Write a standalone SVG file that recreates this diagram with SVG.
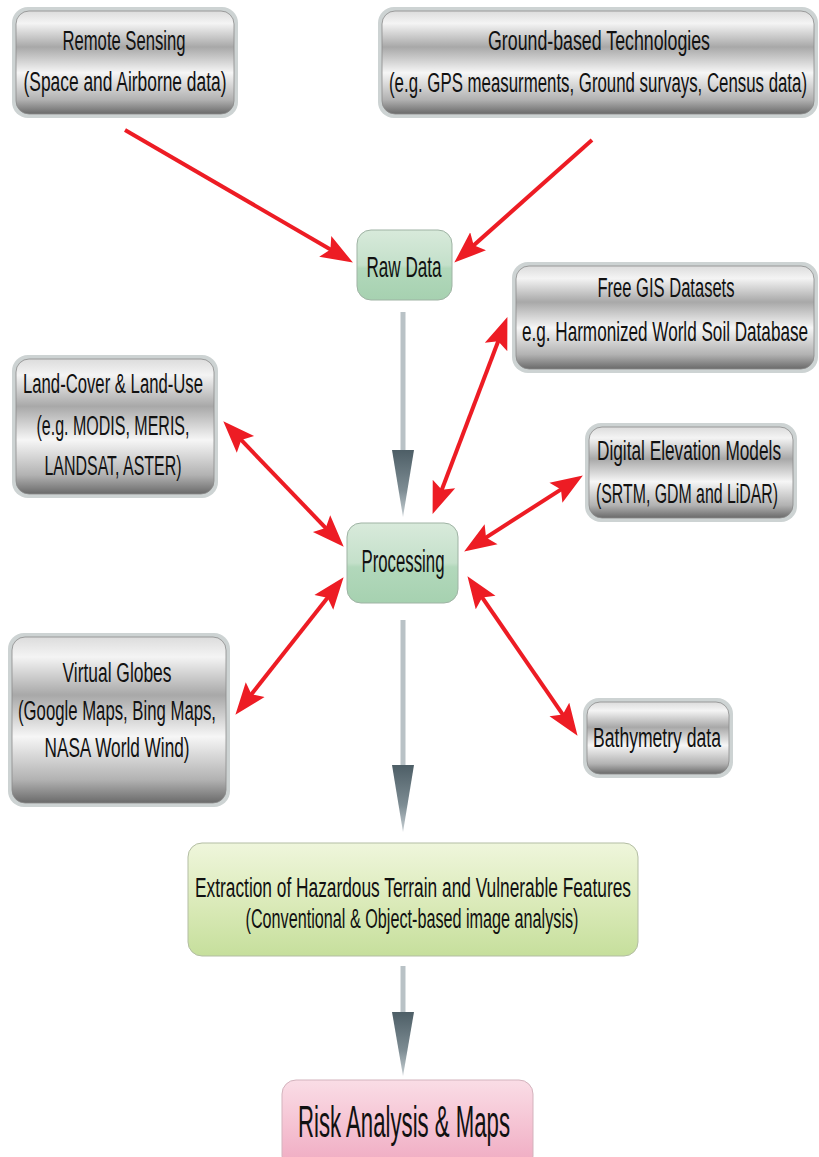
<svg xmlns="http://www.w3.org/2000/svg" width="819" height="1157" viewBox="0 0 819 1157">
<defs>
<linearGradient id="metal" x1="0" y1="0" x2="0" y2="1">
<stop offset="0" stop-color="#dcdcdc"/>
<stop offset="0.12" stop-color="#f4f4f4"/>
<stop offset="0.35" stop-color="#a8a8a8"/>
<stop offset="0.6" stop-color="#f6f6f6"/>
<stop offset="0.86" stop-color="#b2b2b2"/>
<stop offset="1" stop-color="#6a6a6a"/>
</linearGradient>
<linearGradient id="green" x1="0" y1="0" x2="0" y2="1">
<stop offset="0" stop-color="#d8eadb"/>
<stop offset="0.5" stop-color="#c4e0ca"/>
<stop offset="0.55" stop-color="#b2d8bb"/>
<stop offset="1" stop-color="#a6d1b0"/>
</linearGradient>
<linearGradient id="lime" x1="0" y1="0" x2="0" y2="1">
<stop offset="0" stop-color="#eff6dc"/>
<stop offset="0.5" stop-color="#dcebbb"/>
<stop offset="1" stop-color="#c6df9c"/>
</linearGradient>
<linearGradient id="pink" x1="0" y1="0" x2="0" y2="1">
<stop offset="0" stop-color="#fadde6"/>
<stop offset="0.5" stop-color="#f5c3d3"/>
<stop offset="1" stop-color="#efa8c0"/>
</linearGradient>
<linearGradient id="ghead" x1="0" y1="0" x2="0" y2="1">
<stop offset="0" stop-color="#4d5e66"/>
<stop offset="0.6" stop-color="#7d8c93"/>
<stop offset="1" stop-color="#c8d0d4"/>
</linearGradient>
<marker id="rh" viewBox="0 -13 34 26" markerWidth="34" markerHeight="26" refX="21" refY="0" orient="auto-start-reverse" markerUnits="userSpaceOnUse">
<path d="M0,-12 L32,0 L0,12 L6,0 z" fill="#ed1c24"/>
</marker>
<style>
.t{font-family:"Liberation Sans","DejaVu Sans",sans-serif;font-size:27px;fill:#111;text-anchor:middle}
.outer{fill:#cdd3d3}
.metal{fill:url(#metal);stroke:#8a8a8a;stroke-width:0.8}
.red{stroke:#ed1c24;stroke-width:4;fill:none;marker-end:url(#rh)}
.red2{stroke:#ed1c24;stroke-width:4;fill:none;marker-start:url(#rh);marker-end:url(#rh)}
.shaft{stroke:#b9c2c6;stroke-width:5}
</style>
</defs>
<rect width="819" height="1157" fill="#fff"/>

<g id="connectors">
<line class="red" x1="125" y1="130" x2="343.4" y2="257"/>
<line class="red" x1="592" y1="140" x2="462.5" y2="255.3"/>
<line class="red2" x1="503.5" y1="327.3" x2="436.5" y2="503.7"/>
<line class="red2" x1="230.9" y1="429.2" x2="336.1" y2="538.8"/>
<line class="red2" x1="573.6" y1="481.4" x2="473.4" y2="545.6"/>
<line class="red2" x1="242.2" y1="706.1" x2="336.8" y2="585.9"/>
<line class="red2" x1="473.7" y1="585.2" x2="571.3" y2="726.8"/>
<line class="shaft" x1="403" y1="312" x2="403" y2="452"/>
<polygon points="392,450 414,450 403,517" fill="url(#ghead)"/>
<line class="shaft" x1="403" y1="620" x2="403" y2="767"/>
<polygon points="392,765 414,765 403,832" fill="url(#ghead)"/>
<line class="shaft" x1="403" y1="966" x2="403" y2="1014"/>
<polygon points="392,1012 414,1012 403,1076" fill="url(#ghead)"/>
</g>

<g id="remote-sensing">
<rect class="outer" x="12" y="7" width="226" height="111" rx="16"/>
<rect class="metal" x="16" y="11" width="218" height="103" rx="13"/>
<text class="t" x="124" y="50" textLength="123" lengthAdjust="spacingAndGlyphs">Remote Sensing</text>
<text class="t" x="125" y="91" textLength="203" lengthAdjust="spacingAndGlyphs">(Space and Airborne data)</text>
</g>

<g id="ground-based">
<rect class="outer" x="378" y="7" width="440" height="111" rx="16"/>
<rect class="metal" x="382" y="11" width="432" height="103" rx="13"/>
<text class="t" x="599" y="50" textLength="222" lengthAdjust="spacingAndGlyphs">Ground-based Technologies</text>
<text class="t" x="598" y="92" textLength="418" lengthAdjust="spacingAndGlyphs">(e.g. GPS measurments, Ground survays, Census data)</text>
</g>

<g id="raw-data">
<rect x="357" y="230" width="95" height="70" rx="14" fill="url(#green)" stroke="#9fb3a4" stroke-width="1"/>
<text class="t" x="404" y="277" style="font-size:30px" textLength="75" lengthAdjust="spacingAndGlyphs">Raw Data</text>
</g>

<g id="free-gis">
<rect class="outer" x="512" y="262" width="306" height="111" rx="16"/>
<rect class="metal" x="516" y="266" width="298" height="103" rx="13"/>
<text class="t" x="666" y="297" textLength="137" lengthAdjust="spacingAndGlyphs">Free GIS Datasets</text>
<text class="t" x="665" y="341" textLength="286" lengthAdjust="spacingAndGlyphs">e.g. Harmonized World Soil Database</text>
</g>

<g id="land-cover">
<rect class="outer" x="12" y="355" width="206" height="143" rx="16"/>
<rect class="metal" x="16" y="359" width="198" height="135" rx="13"/>
<text class="t" x="113" y="393" textLength="180" lengthAdjust="spacingAndGlyphs">Land-Cover &amp; Land-Use</text>
<text class="t" x="113" y="435" textLength="153" lengthAdjust="spacingAndGlyphs">(e.g. MODIS, MERIS,</text>
<text class="t" x="113" y="475" textLength="137" lengthAdjust="spacingAndGlyphs">LANDSAT, ASTER)</text>
</g>

<g id="dem">
<rect class="outer" x="585" y="423" width="212" height="99" rx="16"/>
<rect class="metal" x="589" y="427" width="204" height="91" rx="13"/>
<text class="t" x="689" y="460" textLength="184" lengthAdjust="spacingAndGlyphs">Digital Elevation Models</text>
<text class="t" x="687" y="503" textLength="182" lengthAdjust="spacingAndGlyphs">(SRTM, GDM and LiDAR)</text>
</g>

<g id="processing">
<rect x="347" y="523" width="111" height="80" rx="14" fill="url(#green)" stroke="#9fb3a4" stroke-width="1"/>
<text class="t" x="403" y="572" style="font-size:31px" textLength="83" lengthAdjust="spacingAndGlyphs">Processing</text>
</g>

<g id="virtual-globes">
<rect class="outer" x="8" y="633" width="222" height="174" rx="16"/>
<rect class="metal" x="12" y="637" width="214" height="166" rx="13"/>
<text class="t" x="117" y="682" textLength="109" lengthAdjust="spacingAndGlyphs">Virtual Globes</text>
<text class="t" x="117" y="720" textLength="198" lengthAdjust="spacingAndGlyphs">(Google Maps, Bing Maps,</text>
<text class="t" x="117" y="757" textLength="145" lengthAdjust="spacingAndGlyphs">NASA World Wind)</text>
</g>

<g id="bathymetry">
<rect class="outer" x="583" y="698" width="150" height="80" rx="16"/>
<rect class="metal" x="587" y="702" width="142" height="72" rx="13"/>
<text class="t" x="657" y="747" textLength="128" lengthAdjust="spacingAndGlyphs">Bathymetry data</text>
</g>

<g id="extraction">
<rect x="188" y="843" width="450" height="113" rx="14" fill="url(#lime)" stroke="#b3bda3" stroke-width="1"/>
<text class="t" x="413" y="897" textLength="436" lengthAdjust="spacingAndGlyphs">Extraction of Hazardous Terrain and Vulnerable Features</text>
<text class="t" x="412" y="928" textLength="333" lengthAdjust="spacingAndGlyphs">(Conventional &amp; Object-based image analysis)</text>
</g>

<g id="risk">
<rect x="282" y="1080" width="251" height="90" rx="14" fill="url(#pink)" stroke="#d3b3bd" stroke-width="1"/>
<text class="t" x="404" y="1137" style="font-size:44px" textLength="212" lengthAdjust="spacingAndGlyphs">Risk Analysis &amp; Maps</text>
</g>
</svg>
